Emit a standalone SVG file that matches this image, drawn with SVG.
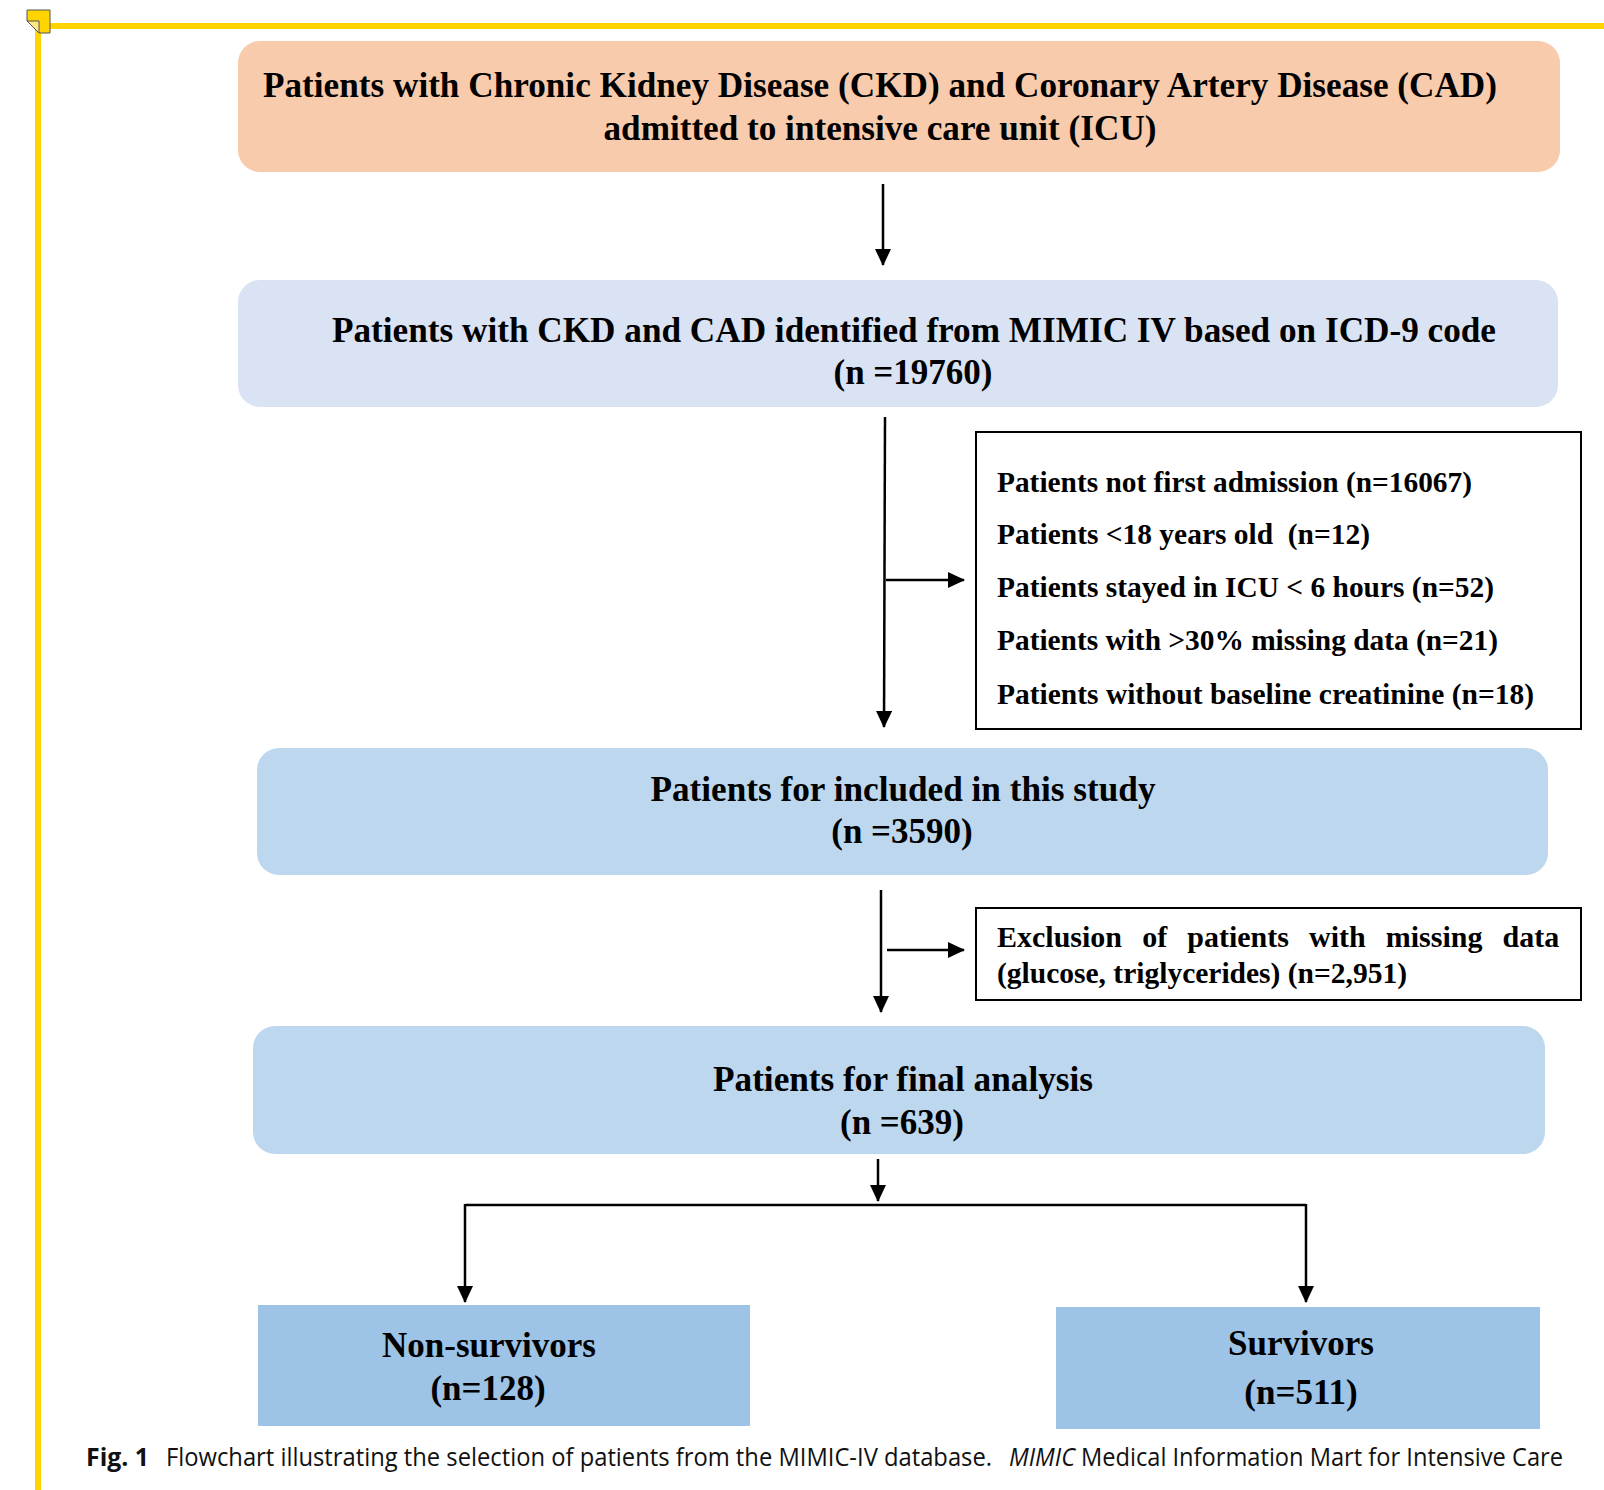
<svg xmlns="http://www.w3.org/2000/svg" width="1604" height="1490" viewBox="0 0 1604 1490">
<defs>
<marker id="ah" markerWidth="17" markerHeight="16" refX="16" refY="8" orient="auto" markerUnits="userSpaceOnUse">
<path d="M0,0 L17,8 L0,16 Z" fill="#000"/>
</marker>
<style>
.t{font-family:"Liberation Serif","Times New Roman",serif;font-weight:bold;fill:#000}
.b{font-size:35px}
.s{font-size:30px}
.c{text-anchor:middle}
.ln{stroke:#000;stroke-width:2.5;fill:none}
.cap{font-family:"Open Sans","Liberation Sans",sans-serif;font-size:25px;fill:#111}
</style>
</defs>
<rect width="1604" height="1490" fill="#fff"/>
<g id="frame">
<line x1="38" y1="26" x2="1604" y2="26" stroke="#FFD400" stroke-width="6"/>
<line x1="38" y1="23" x2="38" y2="1490" stroke="#FFD400" stroke-width="6"/>
<path d="M27,10 H50 V33 H39 L27,21 Z" fill="#FFD400" stroke="#555" stroke-width="1"/>
<path d="M27,21 H39 V33 Z" fill="#FFE680" stroke="#555" stroke-width="1"/>
</g>
<g id="connectors">
<line class="ln" x1="883" y1="184" x2="883" y2="265" marker-end="url(#ah)"/>
<line class="ln" x1="885" y1="417" x2="884" y2="727" marker-end="url(#ah)"/>
<line class="ln" x1="886" y1="580" x2="964" y2="580" marker-end="url(#ah)"/>
<line class="ln" x1="881" y1="890" x2="881" y2="1012" marker-end="url(#ah)"/>
<line class="ln" x1="887" y1="950" x2="964" y2="950" marker-end="url(#ah)"/>
<line class="ln" x1="878" y1="1159" x2="878" y2="1201" marker-end="url(#ah)"/>
<line class="ln" x1="465" y1="1205" x2="1306" y2="1205"/>
<line class="ln" x1="465" y1="1204" x2="465" y2="1302" marker-end="url(#ah)"/>
<line class="ln" x1="1306" y1="1204" x2="1306" y2="1302" marker-end="url(#ah)"/>
</g>
<g id="n1">
<rect x="238" y="41" width="1322" height="131" rx="22" fill="#F8CBAD"/>
<text class="t b c" x="880" y="97" textLength="1234" lengthAdjust="spacingAndGlyphs">Patients with Chronic Kidney Disease (CKD) and Coronary Artery Disease (CAD)</text>
<text class="t b c" x="880" y="140" textLength="553" lengthAdjust="spacingAndGlyphs">admitted to intensive care unit (ICU)</text>
</g>
<g id="n2">
<rect x="238" y="280" width="1320" height="127" rx="22" fill="#DAE3F3"/>
<text class="t b c" x="914" y="342" textLength="1164" lengthAdjust="spacingAndGlyphs">Patients with CKD and CAD identified from MIMIC IV based on ICD-9 code</text>
<text class="t b c" x="913" y="384">(n =19760)</text>
</g>
<g id="excl1">
<rect x="976" y="432" width="605" height="297" fill="#fff" stroke="#000" stroke-width="2"/>
<text class="t s" x="997" y="492" textLength="475" lengthAdjust="spacingAndGlyphs">Patients not first admission (n=16067)</text>
<text class="t s" x="997" y="544" xml:space="preserve" textLength="373" lengthAdjust="spacingAndGlyphs">Patients &lt;18 years old  (n=12)</text>
<text class="t s" x="997" y="597" textLength="497" lengthAdjust="spacingAndGlyphs">Patients stayed in ICU &lt; 6 hours (n=52)</text>
<text class="t s" x="997" y="650" textLength="501" lengthAdjust="spacingAndGlyphs">Patients with &gt;30% missing data (n=21)</text>
<text class="t s" x="997" y="704" textLength="537" lengthAdjust="spacingAndGlyphs">Patients without baseline creatinine (n=18)</text>
</g>
<g id="n3">
<rect x="257" y="748" width="1291" height="127" rx="22" fill="#BDD7EE"/>
<text class="t b c" x="903" y="801" textLength="505" lengthAdjust="spacingAndGlyphs">Patients for included in this study</text>
<text class="t b c" x="902" y="843">(n =3590)</text>
</g>
<g id="excl2">
<rect x="976" y="908" width="605" height="92" fill="#fff" stroke="#000" stroke-width="2"/>
<text class="t s" x="997" y="947" word-spacing="12.6">Exclusion of patients with missing data</text>
<text class="t s" x="997" y="983" textLength="410" lengthAdjust="spacingAndGlyphs">(glucose, triglycerides) (n=2,951)</text>
</g>
<g id="n4">
<rect x="253" y="1026" width="1292" height="128" rx="22" fill="#BDD7EE"/>
<text class="t b c" x="903" y="1091" textLength="380" lengthAdjust="spacingAndGlyphs">Patients for final analysis</text>
<text class="t b c" x="902" y="1134">(n =639)</text>
</g>
<g id="n5">
<rect x="258" y="1305" width="492" height="121" fill="#9DC3E6"/>
<text class="t b c" x="489" y="1357">Non-survivors</text>
<text class="t b c" x="488" y="1400">(n=128)</text>
</g>
<g id="n6">
<rect x="1056" y="1307" width="484" height="122" fill="#9DC3E6"/>
<text class="t b c" x="1301" y="1355">Survivors</text>
<text class="t b c" x="1301" y="1404">(n=511)</text>
</g>
<g id="caption">
<text class="cap" x="86" y="1466" font-weight="bold" textLength="63" lengthAdjust="spacingAndGlyphs">Fig. 1</text>
<text class="cap" x="166" y="1466" textLength="826" lengthAdjust="spacingAndGlyphs">Flowchart illustrating the selection of patients from the MIMIC-IV database.</text>
<text class="cap" x="1009" y="1466" font-style="italic" textLength="66" lengthAdjust="spacingAndGlyphs">MIMIC</text>
<text class="cap" x="1081" y="1466" textLength="482" lengthAdjust="spacingAndGlyphs">Medical Information Mart for Intensive Care</text>
</g>
</svg>
